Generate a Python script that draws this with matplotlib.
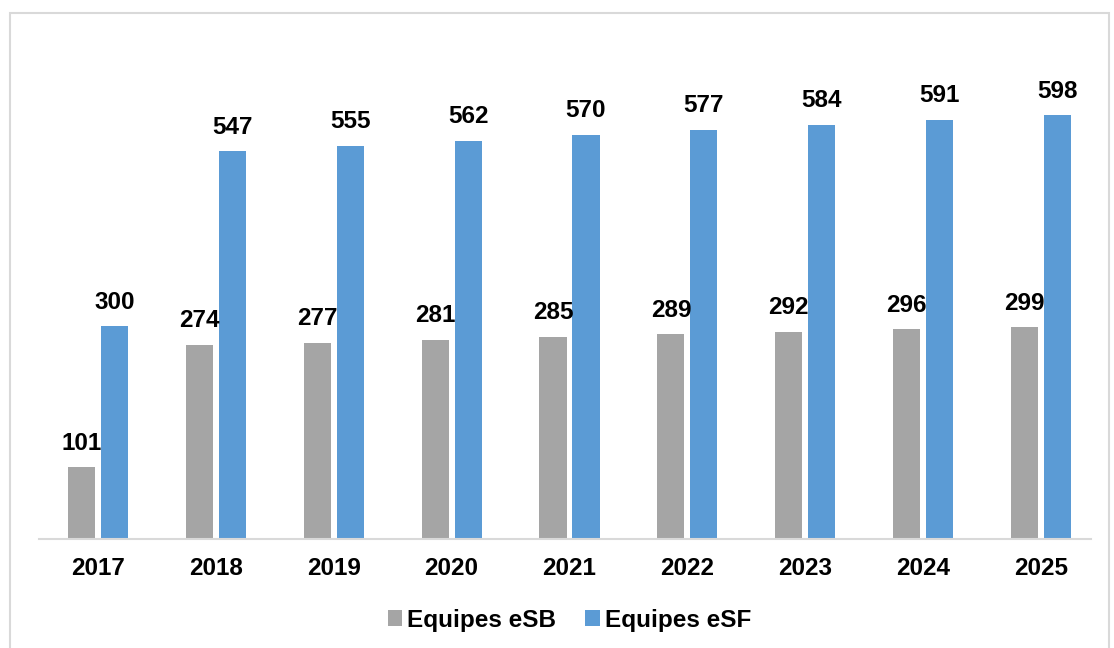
import numpy as np
import matplotlib.pyplot as plt
from matplotlib.patches import Rectangle

plt.rcParams['font.family'] = ['Liberation Sans', 'DejaVu Sans']

# data
anos = ['2017', '2018', '2019', '2020', '2021', '2022', '2023', '2024', '2025']
esb = [101, 274, 277, 281, 285, 289, 292, 296, 299]
esf = [300, 547, 555, 562, 570, 577, 584, 591, 598]

cor_esb = '#A5A5A5'
cor_esf = '#5B9BD5'

W, H = 1114, 648
fig = plt.figure(figsize=(W / 100, H / 100), dpi=100)
ax = fig.add_axes([39 / W, 1 - 539 / H, (1100 - 39) / W, (539 - 42.7) / H])

# light border around the chart area
fig.patches.append(Rectangle((10 / W, -0.05), (1109 - 10) / W, 1.05 - 13 / H,
                             transform=fig.transFigure, fill=False,
                             edgecolor='#D9D9D9', linewidth=1.5))

x = np.arange(len(anos))
largura = 0.23
desloc = 0.14
b1 = ax.bar(x - desloc, esb, largura, color=cor_esb, label='Equipes eSB')
b2 = ax.bar(x + desloc, esf, largura, color=cor_esf, label='Equipes eSF')

for barras in (b1, b2):
    for b in barras:
        ax.annotate(str(int(b.get_height())),
                    (b.get_x() + b.get_width() / 2, b.get_height()),
                    xytext=(0, 9), textcoords='offset points',
                    ha='center', va='bottom', fontsize=17.5, fontweight='bold')

ax.set_xlim(-0.5, len(anos) - 0.5)
ax.set_ylim(0, 700)
ax.set_xticks(x)
ax.set_xticklabels(anos, fontsize=17.5, fontweight='bold')
ax.tick_params(axis='x', length=0, pad=13)
ax.set_yticks([])
for lado in ('top', 'right', 'left'):
    ax.spines[lado].set_visible(False)
ax.spines['bottom'].set_color('#D9D9D9')
ax.spines['bottom'].set_linewidth(1.5)
ax.spines['bottom'].set_bounds(-0.5, len(anos) - 0.58)

fig.legend(loc='center', bbox_to_anchor=(0.511, 1 - 620 / H), ncol=2, frameon=False,
           prop={'size': 17.5, 'weight': 'bold'}, handlelength=0.6, handleheight=0.6,
           handletextpad=0.2, columnspacing=1.2)

fig.savefig('out.png', dpi=100)
